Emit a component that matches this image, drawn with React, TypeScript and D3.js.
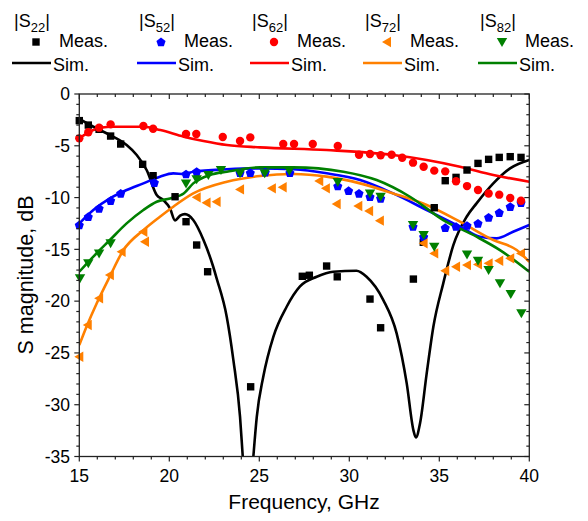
import React from 'react';
import * as d3 from 'd3';

type P = [number, number];

// ---- data: [frequency GHz, magnitude dB] ----
const s22Meas: P[] = [
  [15.0, -2.57], [15.5, -3.0], [16.1, -3.41], [16.74, -4.06], [17.3, -4.83], [18.52, -6.79],
  [19.1, -7.89], [20.32, -9.92], [20.93, -12.33], [21.52, -14.58], [22.13, -17.16], [24.52, -28.27],
  [27.39, -17.6], [27.78, -17.5], [28.74, -16.61], [29.33, -17.65], [31.15, -19.8], [31.74, -22.57],
  [33.56, -17.87], [34.11, -14.32], [34.72, -10.98], [35.33, -8.37], [35.93, -8.05], [36.54, -7.34],
  [37.15, -6.7], [37.74, -6.31], [38.33, -6.12], [38.94, -6.05], [39.54, -6.12],
];
const s22Sim: P[] = [
  [15, -2.41], [15.78, -3.16], [16.7, -3.96], [17.63, -4.93], [18.19, -5.89], [18.74, -7.34],
  [19.3, -9.75], [19.67, -10.24], [20.04, -11.04], [20.32, -12.2], [20.6, -11.75], [20.87, -11.6],
  [21.33, -12.17], [21.9, -14.1], [22.44, -16.68], [22.63, -17.8], [23.19, -21.5], [23.56, -25.69],
  [23.93, -31.17], [24.08, -35], [24.37, -42], [24.67, -35], [24.86, -31.17], [25.22, -27.3],
  [25.78, -23.44], [26.52, -20.54], [27.26, -18.58], [28.19, -17.65], [29.11, -17.16], [30.4, -17.07],
  [30.96, -17.65], [31.89, -19.9], [32.63, -23.11], [33.19, -27.94], [33.56, -32.45], [33.7, -33.16],
  [33.93, -31.8], [34.3, -26.98], [34.67, -22.47], [35.22, -18.28], [35.78, -14.6], [36.52, -11.85],
  [37.07, -10.56], [38, -8.63], [38.93, -7.18], [40, -6.37],
];

const s52Meas: P[] = [
  [15.0, -12.65], [15.5, -11.85], [16.1, -11.04], [16.74, -10.3], [17.3, -9.6], [19.17, -8.56],
  [20.93, -7.73], [21.52, -7.5], [23.93, -7.6], [24.5, -7.6], [25.33, -7.55], [26.7, -7.6],
  [29.36, -8.89], [29.96, -9.34], [30.54, -9.6], [31.15, -9.92], [31.74, -10.08], [33.54, -12.8],
  [34.13, -13.78], [35.33, -12.91], [35.93, -12.8], [36.54, -12.7], [37.15, -12.49], [37.74, -11.91],
  [38.33, -11.46], [38.94, -10.88], [39.54, -10.5],
];
const s52Sim: P[] = [
  [15, -12.5], [15.78, -11.2], [16.7, -10.08], [17.63, -9.27], [18.56, -8.63], [19.48, -7.98],
  [20.22, -7.66], [20.83, -7.73], [21.33, -7.5], [23.2, -7.27], [25.04, -7.18], [26.9, -7.27],
  [28.74, -7.66], [30.6, -8.31], [32.44, -9.6], [34.3, -11.2], [36.15, -12.8], [37.26, -13.78],
  [38.19, -13.94], [39.1, -13.3], [40, -12.65],
];

const s62Meas: P[] = [
  [15.0, -4.28], [15.5, -3.7], [16.1, -3.25], [16.74, -2.93], [18.56, -3.09], [19.1, -3.35],
  [20.93, -3.86], [21.5, -3.86], [22.97, -4.15], [23.93, -4.54], [24.5, -4.19], [26.33, -4.83],
  [26.93, -4.83], [27.97, -4.83], [29.36, -5.02], [30.54, -5.86], [31.15, -5.79], [31.74, -5.92],
  [32.35, -5.86], [32.94, -6.15], [33.54, -6.63], [34.13, -7.02], [34.72, -7.4], [35.33, -7.47],
  [35.93, -8.43], [36.54, -8.89], [37.15, -9.27], [37.74, -9.6], [38.33, -9.72], [38.94, -10.04],
  [39.54, -10.3],
];
const s62Sim: P[] = [
  [15, -4.28], [15.78, -3.48], [16.7, -3.16], [18.56, -3.16], [19.5, -3.48], [20.8, -4.12],
  [21.9, -4.54], [23.2, -4.93], [25.04, -5.15], [28.74, -5.41], [32.44, -5.89], [34.3, -6.37],
  [36.15, -7.02], [38, -7.82], [40, -8.47],
];

const s72Meas: P[] = [
  [15.0, -25.37], [15.47, -22.3], [16.1, -19.73], [16.7, -17.48], [17.35, -15.23], [18.56, -13.3],
  [18.65, -14.26], [21.52, -9.98], [22.07, -10.5], [22.63, -10.4], [23.93, -9.21], [25.7, -9.11],
  [26.3, -9.01], [28.33, -8.4], [28.7, -9.11], [29.3, -10.62], [30.5, -10.82], [31.1, -11.3],
  [31.7, -12.23], [34.13, -14.42], [34.72, -15.39], [35.33, -17.07], [35.93, -16.68], [36.54, -16.52],
  [37.15, -16.45], [37.74, -16.35], [38.33, -16.1], [38.94, -15.87], [39.54, -15.39],
];
const s72Sim: P[] = [
  [15, -24.24], [15.4, -22.47], [15.97, -20.2], [16.7, -17.6], [17.44, -15.1], [18.56, -13.14],
  [19.48, -11.85], [20.22, -10.88], [21.33, -9.6], [23.2, -8.47], [25.04, -7.92], [26.9, -7.73],
  [28.74, -7.98], [30.6, -8.63], [32.44, -9.6], [34.3, -10.72], [36.15, -12.33], [38, -14.1],
  [39.3, -15.07], [40, -16.2],
];

const s82Meas: P[] = [
  [15.04, -17.8], [15.5, -16.35], [16.1, -15.39], [16.74, -14.42], [20.93, -8.63], [21.52, -8.24],
  [22.17, -7.82], [22.87, -7.34], [23.93, -7.66], [25.3, -7.66], [26.67, -7.4], [29.36, -8.5],
  [31.15, -9.6], [31.74, -9.92], [33.54, -12.65], [34.13, -13.62], [34.72, -14.75], [36.54, -15.49],
  [37.15, -16.1], [37.74, -17.0], [38.37, -18.28], [38.97, -19.32], [39.56, -21.18],
];
const s82Sim: P[] = [
  [15, -17.16], [15.78, -15.7], [16.7, -14.1], [17.63, -12.49], [18.56, -11.2], [19.3, -10.4],
  [20.04, -10.08], [20.8, -9.6], [21.33, -8.63], [22.26, -7.82], [23.2, -7.5], [25.04, -7.08],
  [26.9, -7.08], [29.67, -7.5], [31.52, -8.31], [33.37, -9.92], [35.22, -12.17], [37.07, -13.78],
  [38.37, -15.07], [40, -17.16],
];

const xMajorTicks = [15, 20, 25, 30, 35, 40];
const yMajorTicks = [0, -5, -10, -15, -20, -25, -30, -35];
const seriesSubs = ['22', '52', '62', '72', '82'];
const seriesColors = ['#000000', '#0000ff', '#ff0000', '#ff8000', '#008000'];
const seriesMarkers = ['square', 'pentagon', 'circle', 'triLeft', 'triDown'];
const measData = [s22Meas, s52Meas, s62Meas, s72Meas, s82Meas];
const simData = [s22Sim, s52Sim, s62Sim, s72Sim, s82Sim];
const legendOffsets = [0, 125, 238, 351, 466];

const W = 588;
const H = 521;
const L = 79.3, R = 529.3, T = 94, B = 456.5;
const FONT = '"Liberation Sans", Arial, sans-serif';

function markerPath(kind: string): string {
  if (kind === 'square') {
    const s = 3.7;
    return `M${-s},${-s}H${s}V${s}H${-s}Z`;
  }
  if (kind === 'circle') {
    const r = 4.2;
    return `M${r},0A${r},${r} 0 1 1 ${-r},0A${r},${r} 0 1 1 ${r},0Z`;
  }
  if (kind === 'pentagon') {
    const r = 4.8;
    const pts = d3.range(5).map((k) => {
      const a = (-90 + k * 72) * Math.PI / 180;
      return [r * Math.cos(a), r * Math.sin(a) + 0.4];
    });
    return 'M' + pts.map((p) => p.join(',')).join('L') + 'Z';
  }
  if (kind === 'triLeft') {
    return 'M-5,0L4,-5.2L4,5.2Z';
  }
  // triDown
  return 'M-5.2,-4L5.2,-4L0,5Z';
}

export default function App() {
  const x = d3.scaleLinear().domain([15, 40]).range([L, R]);
  const y = d3.scaleLinear().domain([0, -35]).range([T, B]);
  const line = d3
    .line<P>()
    .x((d) => x(d[0]))
    .y((d) => y(d[1]))
    .curve(d3.curveMonotoneX);

  const xMinor = d3.range(15, 40.001, 1);
  const yMinor = d3.range(0, -35.001, -1);
  const axisColor = '#222';

  return (
    <svg
      width={W}
      height={H}
      viewBox={`0 0 ${W} ${H}`}
      style={{ position: 'absolute', left: 0, top: 0, background: '#fff' }}
      fontFamily={FONT}
    >
      <defs>
        <clipPath id="plotClip">
          <rect x={L} y={T} width={R - L} height={B - T} />
        </clipPath>
      </defs>

      {/* sim lines */}
      <g clipPath="url(#plotClip)">
        {simData.map((d, i) => (
          <path key={'s' + i} d={line(d) || ''} fill="none" stroke={seriesColors[i]} strokeWidth={2.6} strokeLinejoin="round" />
        ))}
      </g>

      {/* measured markers */}
      <g>
        {measData.map((d, i) => (
          <g key={'m' + i} fill={seriesColors[i]}>
            {d.map((p, j) => (
              <path key={j} d={markerPath(seriesMarkers[i])} transform={`translate(${x(p[0])},${y(p[1])})`} />
            ))}
          </g>
        ))}
      </g>

      {/* frame */}
      <rect x={L} y={T} width={R - L} height={B - T} fill="none" stroke={axisColor} strokeWidth={1.3} />

      {/* x ticks */}
      {xMinor.map((v) => {
        const major = xMajorTicks.includes(Math.round(v));
        const len = major ? 5 : 3;
        return (
          <g key={'xt' + v} stroke={axisColor} strokeWidth={1.2}>
            <line x1={x(v)} x2={x(v)} y1={B} y2={B + len} />
            <line x1={x(v)} x2={x(v)} y1={T} y2={T + len} />
          </g>
        );
      })}
      {/* y ticks */}
      {yMinor.map((v) => {
        const major = yMajorTicks.includes(Math.round(v));
        const len = major ? 5 : 3;
        return (
          <g key={'yt' + v} stroke={axisColor} strokeWidth={1.2}>
            <line x1={L - len} x2={L} y1={y(v)} y2={y(v)} />
            <line x1={R - len} x2={R} y1={y(v)} y2={y(v)} />
          </g>
        );
      })}

      {/* tick labels */}
      {xMajorTicks.map((v) => (
        <text key={'xl' + v} x={x(v)} y={482} textAnchor="middle" fontSize={17.5} fill="#000">
          {v}
        </text>
      ))}
      {yMajorTicks.map((v) => (
        <text key={'yl' + v} x={70} y={y(v)} dy="0.36em" textAnchor="end" fontSize={17.5} fill="#000">
          {v}
        </text>
      ))}

      {/* axis titles */}
      <text x={304} y={509} textAnchor="middle" fontSize={21} fill="#000">
        Frequency, GHz
      </text>
      <text transform={`translate(33,${275}) rotate(-90)`} textAnchor="middle" fontSize={21.5} fill="#000">
        S magnitude, dB
      </text>

      {/* legend */}
      {legendOffsets.map((dx, i) => (
        <g key={'lg' + i}>
          <text x={14 + dx} y={26.5} fontSize={18} fill="#000">
            |S<tspan fontSize={13} dy={5}>{seriesSubs[i]}</tspan>
            <tspan dy={-5} fontSize={18}>|</tspan>
          </text>
          <path d={markerPath(seriesMarkers[i])} transform={`translate(${36 + dx},42)`} fill={seriesColors[i]} />
          <text x={59 + dx} y={47} fontSize={18} fill="#000">
            Meas.
          </text>
          <line x1={12 + dx} x2={51 + dx} y1={63} y2={63} stroke={seriesColors[i]} strokeWidth={2.6} />
          <text x={53 + dx} y={71} fontSize={18} fill="#000">
            Sim.
          </text>
        </g>
      ))}
    </svg>
  );
}
